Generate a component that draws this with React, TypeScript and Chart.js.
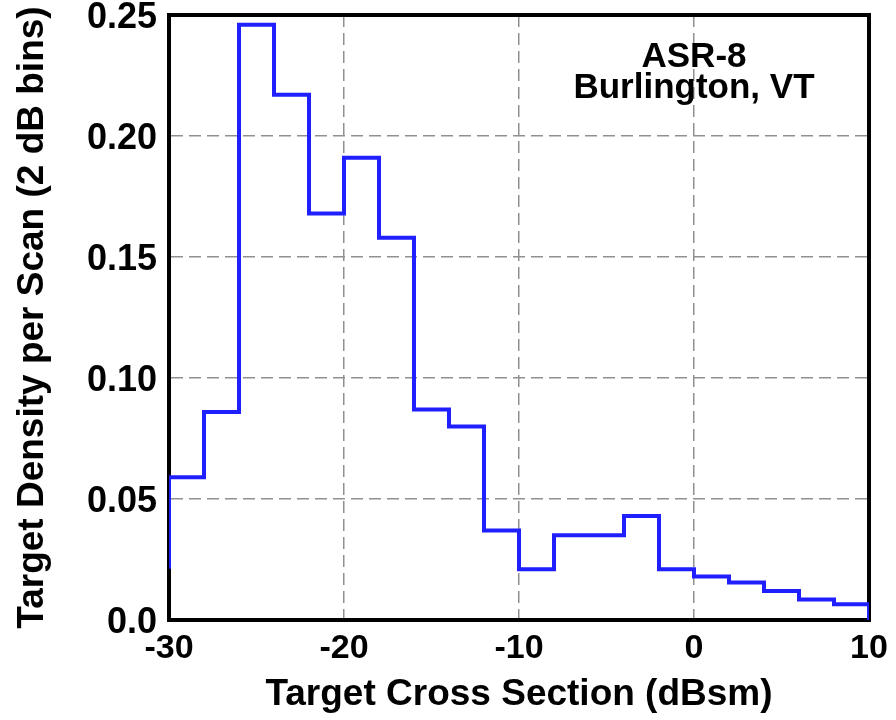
import { useEffect, useRef } from "react";
import { Chart, registerables } from "chart.js";

Chart.register(...registerables);

// Left edges of the 2 dB bins (the first bin is only partly inside the axis range),
// with the closing edge at +10 dBsm.
const binEdges = [-32, -30, -28, -26, -24, -22, -20, -18, -16, -14, -12, -10, -8, -6, -4, -2, 0, 2, 4, 6, 8, 10];
// Target density per scan for each bin (last entry closes the histogram at zero).
const density = [0.022, 0.059, 0.086, 0.246, 0.217, 0.168, 0.191, 0.158, 0.087, 0.08, 0.037, 0.021, 0.035, 0.035, 0.043, 0.021, 0.018, 0.0155, 0.012, 0.0085, 0.0065, 0];

const xTickValues = [-30, -20, -10, 0, 10];
const yTickValues = [0, 0.05, 0.1, 0.15, 0.2, 0.25];
const yTickLabels = ["0.0", "0.05", "0.10", "0.15", "0.20", "0.25"];

const xTitle = "Target Cross Section (dBsm)";
const yTitle = "Target Density per Scan (2 dB bins)";
const annotationLines = ["ASR-8", "Burlington, VT"];
const annotationX = 0;
const annotationY = [0.2285, 0.2155];

const FONT = "'Liberation Sans', Arial, Helvetica, sans-serif";

const framePlugin = {
  id: "frame",
  beforeDatasetsDraw(chart: any) {
    const { ctx, chartArea } = chart;
    ctx.save();
    ctx.strokeStyle = "#000";
    ctx.lineWidth = 4;
    ctx.strokeRect(chartArea.left, chartArea.top, chartArea.right - chartArea.left, chartArea.bottom - chartArea.top);
    ctx.restore();
  },
};

const annotationPlugin = {
  id: "annotation",
  afterDatasetsDraw(chart: any) {
    const { ctx, scales } = chart;
    ctx.save();
    ctx.fillStyle = "#000";
    ctx.font = `bold 35px ${FONT}`;
    ctx.textAlign = "center";
    ctx.textBaseline = "alphabetic";
    const x = scales.x.getPixelForValue(annotationX);
    annotationLines.forEach((t, i) => {
      ctx.fillText(t, x, scales.y.getPixelForValue(annotationY[i]));
    });
    ctx.restore();
  },
};

export default function App() {
  const ref = useRef<HTMLCanvasElement | null>(null);

  useEffect(() => {
    if (!ref.current) return;
    const points = binEdges.map((x, i) => ({ x, y: density[i] }));
    const chart = new Chart(ref.current, {
      type: "line",
      data: {
        datasets: [
          {
            data: points,
            stepped: "before",
            borderColor: "#1f1fff",
            borderWidth: 4,
            pointRadius: 0,
            fill: false,
          },
        ],
      },
      options: {
        animation: false,
        responsive: false,
        maintainAspectRatio: false,
        devicePixelRatio: 1,
        layout: { padding: { top: 15, right: 27, bottom: 0, left: 0 } },
        plugins: {
          legend: { display: false },
          tooltip: { enabled: false },
        },
        scales: {
          x: {
            type: "linear",
            min: -30,
            max: 10,
            afterBuildTicks: (scale: any) => {
              scale.ticks = xTickValues.map((v) => ({ value: v }));
            },
            afterFit: (scale: any) => {
              scale.height = 100;
            },
            ticks: {
              color: "#000",
              padding: 8,
              font: { family: FONT, size: 34, weight: "bold" },
              callback: (v: any) => String(v),
              maxRotation: 0,
            },
            grid: { color: "#909090", lineWidth: 1.5, drawTicks: false },
            border: { display: true, color: "#000", width: 4, dash: [12, 6] },
            title: {
              display: true,
              text: xTitle,
              color: "#000",
              font: { family: FONT, size: 37, weight: "bold" },
              padding: { top: 0, bottom: 3 },
            },
          },
          y: {
            type: "linear",
            min: 0,
            max: 0.25,
            afterBuildTicks: (scale: any) => {
              scale.ticks = yTickValues.map((v) => ({ value: v }));
            },
            afterFit: (scale: any) => {
              scale.width = 169;
            },
            ticks: {
              color: "#000",
              padding: 12,
              labelOffset: 3,
              font: { family: FONT, size: 36, weight: "bold", lineHeight: 0.05 },
              callback: (v: any) => {
                const i = yTickValues.findIndex((t) => Math.abs(t - Number(v)) < 1e-9);
                return i >= 0 ? yTickLabels[i] : "";
              },
            },
            grid: { color: "#909090", lineWidth: 1.5, drawTicks: false },
            border: { display: true, color: "#000", width: 4, dash: [12, 6] },
            title: {
              display: true,
              text: yTitle,
              color: "#000",
              font: { family: FONT, size: 37, weight: "bold" },
              padding: { top: 11, bottom: 0 },
            },
          },
        },
      },
      plugins: [framePlugin, annotationPlugin],
    });
    return () => chart.destroy();
  }, []);

  return (
    <div style={{ position: "absolute", left: 0, top: 0, width: 896, height: 720, background: "#fff" }}>
      <canvas ref={ref} width={896} height={720} style={{ display: "block", width: 896, height: 720 }} />
    </div>
  );
}
